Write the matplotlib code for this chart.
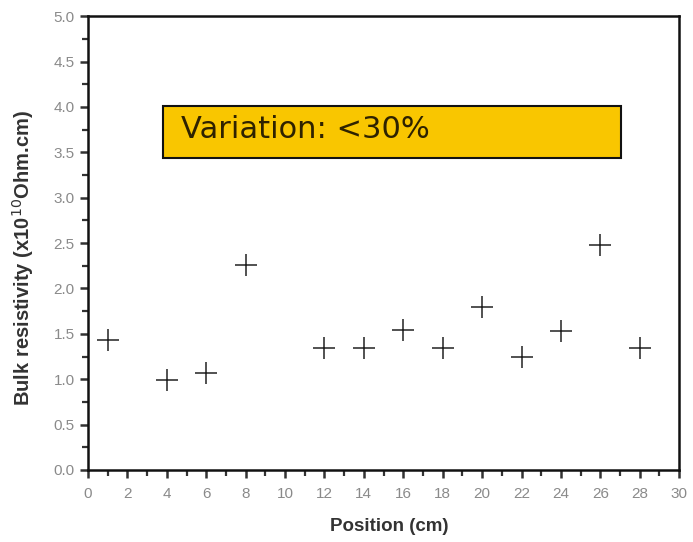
import matplotlib
matplotlib.use("Agg")
import matplotlib.pyplot as plt
from matplotlib.ticker import MultipleLocator, FormatStrFormatter
from matplotlib.patches import Rectangle

position_cm = [1, 4, 6, 8, 12, 14, 16, 18, 20, 22, 24, 26, 28]
resistivity = [1.43, 0.99, 1.07, 2.26, 1.34, 1.34, 1.54, 1.34, 1.80, 1.24, 1.53, 2.48, 1.34]
note_text = "Variation: <30%"

plt.rcParams["font.family"] = ["Liberation Sans", "DejaVu Sans"]

fig = plt.figure(figsize=(6.93, 5.42), dpi=100)
ax = fig.add_axes([0.127, 0.133, 0.853, 0.837])

ax.plot(position_cm, resistivity, linestyle="none", marker="+",
        markersize=16, markeredgewidth=1.1, color="#222222")

ax.set_xlim(0, 30)
ax.set_ylim(0, 5.0)
ax.xaxis.set_major_locator(MultipleLocator(2))
ax.xaxis.set_minor_locator(MultipleLocator(1))
ax.yaxis.set_major_locator(MultipleLocator(0.5))
ax.yaxis.set_minor_locator(MultipleLocator(0.25))
ax.yaxis.set_major_formatter(FormatStrFormatter("%.1f"))

for s in ax.spines.values():
    s.set_linewidth(1.8)
    s.set_color("#111111")

ax.tick_params(which="major", direction="out", length=6, width=1.8,
               labelsize=11, labelcolor="#8a8a8a", color="#333333")
ax.tick_params(axis="x", which="major", pad=6)
ax.tick_params(which="minor", direction="out", length=4, width=1.6, color="#333333")
ax.tick_params(top=False, right=False)

ax.set_xlabel("Position (cm)", fontsize=13.5, fontweight="bold", color="#333333")
ax.set_ylabel("Bulk resistivity (x10$^{10}$Ohm.cm)", fontsize=14.5,
              fontweight="bold", color="#333333")
ax.xaxis.set_label_coords(0.51, -0.106)
ax.yaxis.set_label_coords(-0.088, 0.467)

box = Rectangle((3.8, 3.44), 23.25, 0.57, facecolor="#F9C600",
                edgecolor="#111111", linewidth=1.5, zorder=3)
ax.add_patch(box)
ax.text(4.7, 3.75, note_text, fontsize=22, va="center", ha="left",
        color="#2e2200", family=["DejaVu Sans"], zorder=4)

fig.savefig("out.png", dpi=100)
